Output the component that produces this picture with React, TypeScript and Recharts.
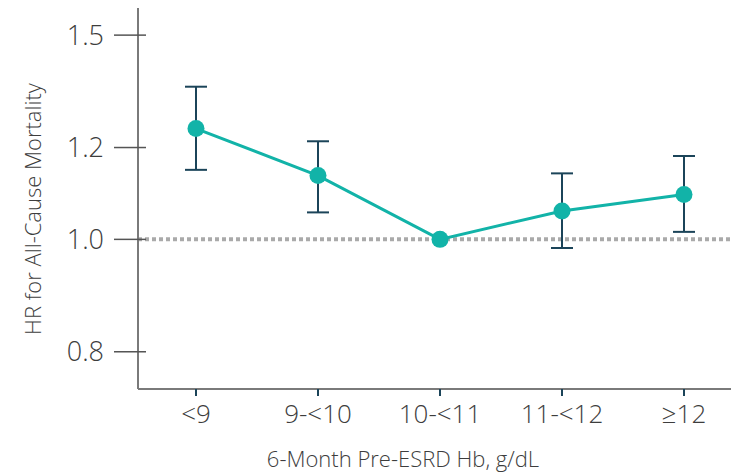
import { LineChart, Line, XAxis, YAxis, ErrorBar, ReferenceLine, Label } from "recharts";

const categories = ["<9", "9-<10", "10-<11", "11-<12", "≥12"];
const hr = [1.246, 1.135, 1.0, 1.058, 1.093];
const ciLow = [1.148, 1.055, null, 0.983, 1.015];
const ciHigh = [1.354, 1.215, null, 1.14, 1.18];
const yTicks = [0.8, 1.0, 1.2, 1.5];

const data = categories.map((name, i) => ({
  name,
  hr: hr[i],
  err:
    ciLow[i] == null || ciHigh[i] == null
      ? null
      : [hr[i] - (ciLow[i] as number), (ciHigh[i] as number) - hr[i]],
}));

const FONT = "'Open Sans', sans-serif";
const TEXT = "#3d3d3d";
const AXIS = "#7a7a7a";
const TEAL = "#12b3a8";
const NAVY = "#1b4459";

const YTick = (props: any) => {
  const { x, y, payload } = props;
  // x is the text anchor (axis - tickSize - tickMargin)
  return (
    <g>
      <line x1={x + 10} y1={y} x2={x + 42} y2={y} stroke="#555" strokeWidth={1.5} />
      <text x={x} y={y} dy="0.36em" textAnchor="end" fill={TEXT} fontSize={27} fontWeight={300} fontFamily={FONT}>
        {Number(payload.value).toFixed(1)}
      </text>
    </g>
  );
};

export default function App() {
  return (
    <div style={{ position: "absolute", left: 0, top: 0, background: "#fff" }}>
      <LineChart width={731} height={475} data={data} margin={{ top: 8, right: 0, bottom: 0, left: 0 }}>
        <XAxis
          dataKey="name"
          height={86}
          padding={{ left: 58, right: 47 }}
          axisLine={{ stroke: AXIS, strokeWidth: 2 }}
          tickLine={{ stroke: NAVY, strokeWidth: 2 }}
          tickSize={7}
          tickMargin={9}
          tick={{ fill: TEXT, fontSize: 26, fontWeight: 300, fontFamily: FONT }}
          interval={0}
        >
          <Label
            content={() => (
              <text x={403} y={467} textAnchor="middle" fill={TEXT} fontSize={22} fontWeight={300} fontFamily={FONT}>
                6-Month Pre-ESRD Hb, g/dL
              </text>
            )}
          />
        </XAxis>
        <YAxis
          width={138}
          scale="log"
          domain={[0.743, 1.583]}
          allowDataOverflow
          ticks={yTicks}
          tickSize={24}
          tickMargin={10}
          tickLine={false}
          axisLine={{ stroke: AXIS, strokeWidth: 2 }}
          tick={<YTick />}
        >
          <Label
            content={() => (
              <text
                x={0}
                y={0}
                transform="translate(41,209) rotate(-90)"
                textAnchor="middle"
                fill={TEXT}
                fontSize={22}
                fontWeight={300}
                fontFamily={FONT}
              >
                HR for All-Cause Mortality
              </text>
            )}
          />
        </YAxis>
        <ReferenceLine y={1} stroke="#aaa" strokeWidth={4} strokeDasharray="4 3" />
        <Line
          dataKey="hr"
          stroke={TEAL}
          strokeWidth={3}
          dot={{ r: 8.5, fill: TEAL, stroke: "none" }}
          activeDot={false}
          isAnimationActive={false}
        >
          <ErrorBar dataKey="err" width={11} stroke={NAVY} strokeWidth={2} direction="y" />
        </Line>
      </LineChart>
    </div>
  );
}
